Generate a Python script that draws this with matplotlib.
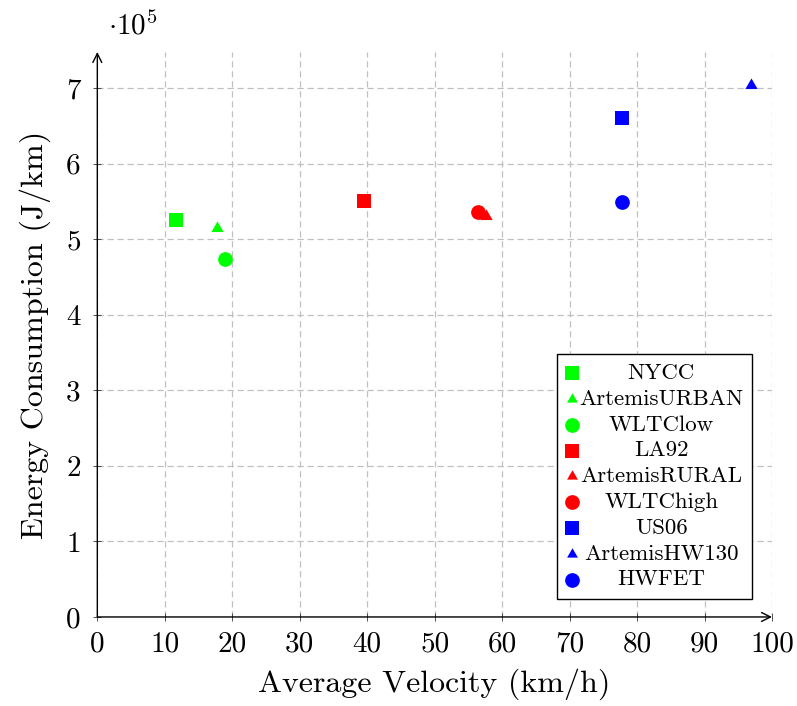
import matplotlib
matplotlib.use("Agg")
import matplotlib.pyplot as plt
from matplotlib.path import Path

plt.rcParams["font.family"] = "serif"
plt.rcParams["font.serif"] = ["cmr10"]
plt.rcParams["mathtext.fontset"] = "cm"
plt.rcParams["axes.formatter.use_mathtext"] = True
plt.rcParams["axes.unicode_minus"] = False

# ===== DATA =====
cycles = ["NYCC", "ArtemisURBAN", "WLTClow",
          "LA92", "ArtemisRURAL", "WLTChigh",
          "US06", "ArtemisHW130", "HWFET"]
avg_speed = [11.7, 17.8, 19.0, 39.6, 57.6, 56.4, 77.8, 96.9, 77.7]          # km/h
energy = [5.25e5, 5.15e5, 4.74e5, 5.51e5, 5.31e5, 5.36e5, 6.61e5, 7.05e5, 5.49e5]  # J/km
colors = ["#00ff00"] * 3 + ["#ff0000"] * 3 + ["#0000ff"] * 3

x_ticks = list(range(0, 101, 10))
y_ticks = [i * 1e5 for i in range(0, 8)]

# pgfplots-like regular triangle (centred on circumcircle)
tri = Path([(0, 1), (-0.866, -0.5), (0.866, -0.5), (0, 1)],
           [Path.MOVETO, Path.LINETO, Path.LINETO, Path.CLOSEPOLY])
shapes = ["s", tri, "o"] * 3
sizes = [10.1, 10.2, 10.6] * 3

fig = plt.figure(figsize=(7.97, 7.06), dpi=100)
ax = fig.add_axes([0.1221, 0.1261, 0.8465, 0.8002])

for x, y, c, m, s in zip(avg_speed, energy, colors, shapes, sizes):
    ax.plot([x], [y], linestyle="none", marker=m, markersize=s,
            color=c, markeredgewidth=0, zorder=3)

ax.set_xlim(0, 100)
ax.set_ylim(0, 7.48e5)
ax.set_xticks(x_ticks)
ax.set_yticks(y_ticks)
ax.set_xticklabels([str(t) for t in x_ticks])
ax.set_yticklabels([str(int(t / 1e5)) for t in y_ticks])
ax.tick_params(direction="inout", length=6, width=0.6, labelsize=21, color="#333333")
ax.tick_params(axis="x", pad=7)
ax.tick_params(axis="y", pad=9)

ax.grid(True, color="#c0c0c0", linestyle=(0, (5, 3)), linewidth=0.9)
ax.set_axisbelow(True)

for side in ["top", "right", "left", "bottom"]:
    ax.spines[side].set_visible(False)

# axis lines with arrow heads
arrow = dict(arrowstyle="->", color="black", lw=1.0, shrinkA=0, shrinkB=0,
             mutation_scale=16)
ax.annotate("", xy=(1.0, 0), xytext=(0, 0), xycoords="axes fraction",
            arrowprops=arrow, annotation_clip=False)
ax.annotate("", xy=(0, 1.0), xytext=(0, 0), xycoords="axes fraction",
            arrowprops=arrow, annotation_clip=False)

ax.set_xlabel("Average Velocity (km/h)", fontsize=23, labelpad=8)
ax.set_ylabel("Energy Consumption (J/km)", fontsize=23, labelpad=11)
fig.text(0.135, 0.963, r"$\cdot 10^5$", fontsize=21, ha="left", va="center")

# legend box: markers on the left, names centred
box_l, box_r = (557.3 - 97.3) / 674.7, (751.7 - 97.3) / 674.7
box_t, box_b = (617 - 354) / 565, (617 - 599.3) / 565
ax.add_patch(plt.Rectangle((box_l, box_b), box_r - box_l, box_t - box_b,
                           transform=ax.transAxes, facecolor="white",
                           edgecolor="black", linewidth=1.0, zorder=4))
row_top = (617 - 373.3) / 565
row_step = 25.8 / 565
mark_x = (572.3 - 97.3) / 674.7
text_x = (661.2 - 97.3) / 674.7
for i, (name, c, m, s) in enumerate(zip(cycles, colors, shapes, sizes)):
    yy = row_top - i * row_step
    ax.plot([mark_x], [yy], transform=ax.transAxes, linestyle="none",
            marker=m, markersize=s if m != tri else 9.0, color=c,
            markeredgewidth=0, zorder=5, clip_on=False)
    ax.text(text_x, yy, name, transform=ax.transAxes, ha="center",
            va="center", fontsize=16.5, zorder=5)

fig.savefig("out.png", dpi=100)
